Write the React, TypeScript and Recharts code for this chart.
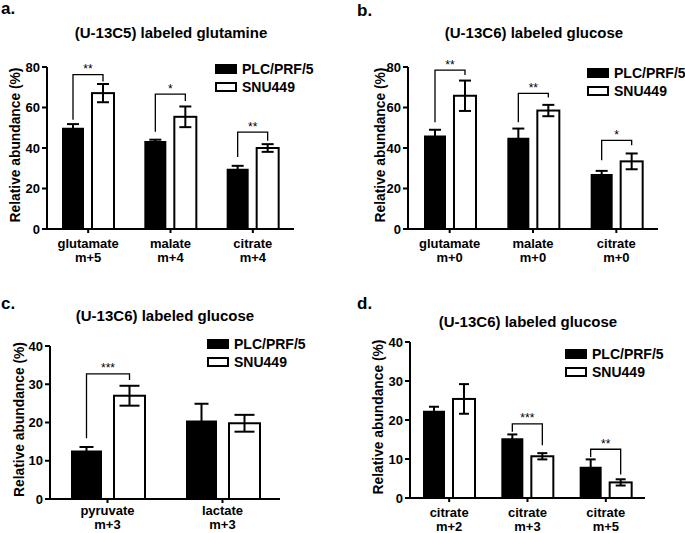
import { Bar, BarChart, ErrorBar, Legend, XAxis, YAxis } from 'recharts';

const FONT = '"Liberation Sans", Arial, Helvetica, sans-serif';

const seriesNames = ['PLC/PRF/5', 'SNU449'];

// a. (U-13C5) labeled glutamine
const metabA = ['glutamate', 'malate', 'citrate'];
const isoA = ['m+5', 'm+4', 'm+4'];
const plcA = [50, 43.4, 29.8];
const plcErrA = [1.8, 0.7, 1.4];
const snuA = [67.1, 55.4, 40];
const snuErrA = [4.5, 5.1, 1.9];
const sigA = ['**', '*', '**'];
const bracketLeftA = [54, 48, 35.6];
const bracketTopA = [76.2, 66.6, 47.8];
const bracketRightA = [72.8, 63.2, 43.6];

// b. (U-13C6) labeled glucose
const metabB = ['glutamate', 'malate', 'citrate'];
const isoB = ['m+0', 'm+0', 'm+0'];
const plcB = [46.2, 45.1, 27.1];
const plcErrB = [2.8, 4.5, 1.6];
const snuB = [65.8, 58.5, 33.4];
const snuErrB = [7.5, 2.8, 3.9];
const sigB = ['**', '**', '*'];
const bracketLeftB = [52.7, 52.7, 34];
const bracketTopB = [78.5, 67, 43.8];
const bracketRightB = [76, 65, 41.3];

// c. (U-13C6) labeled glucose
const metabC = ['pyruvate', 'lactate'];
const isoC = ['m+3', 'm+3'];
const plcC = [12.7, 20.5];
const plcErrC = [0.9, 4.4];
const snuC = [27, 19.8];
const snuErrC = [2.6, 2.2];
const sigC = ['***', ''];
const bracketLeftC = [15.9, 0];
const bracketTopC = [32.7, 0];
const bracketRightC = [31.1, 0];

// d. (U-13C6) labeled glucose
const metabD = ['citrate', 'citrate', 'citrate'];
const isoD = ['m+2', 'm+3', 'm+5'];
const plcD = [22.4, 15.3, 8.0];
const plcErrD = [1.0, 1.0, 1.9];
const snuD = [25.4, 10.7, 4.0];
const snuErrD = [3.8, 0.8, 0.8];
const sigD = ['', '***', '**'];
const bracketLeftD = [0, 17, 10.5];
const bracketTopD = [0, 19, 12.5];
const bracketRightD = [0, 13.5, 6];

const ticks80 = [0, 20, 40, 60, 80];
const ticks40 = [0, 10, 20, 30, 40];

function buildRows(
    metab: string[], iso: string[], plc: number[], plcErr: number[], snu: number[], snuErr: number[],
    sig: string[], bLeft: number[], bTop: number[], bRight: number[]
) {
    return metab.map((m, i) => ({
        name: `${m}|${iso[i]}`,
        plc: plc[i],
        plcErr: plcErr[i],
        snu: snu[i],
        snuErr: snuErr[i],
        sig: sig[i],
        bLeft: bLeft[i],
        bTop: bTop[i],
        bRight: bRight[i],
    }));
}

const rowsA = buildRows(metabA, isoA, plcA, plcErrA, snuA, snuErrA, sigA, bracketLeftA, bracketTopA, bracketRightA);
const rowsB = buildRows(metabB, isoB, plcB, plcErrB, snuB, snuErrB, sigB, bracketLeftB, bracketTopB, bracketRightB);
const rowsC = buildRows(metabC, isoC, plcC, plcErrC, snuC, snuErrC, sigC, bracketLeftC, bracketTopC, bracketRightC);
const rowsD = buildRows(metabD, isoD, plcD, plcErrD, snuD, snuErrD, sigD, bracketLeftD, bracketTopD, bracketRightD);

// white bar + significance bracket (bracket runs from the black bar of the same group)
function snuShape(gap: number) {
    return (props: any) => {
        const { x, y, width, height, payload } = props;
        const ppu = height / payload.snu;
        const base = y + height;
        const toY = (v: number) => base - v * ppu;
        const lx = x - gap - width / 2;
        const rx = x + width / 2;
        return (
            <g>
                <rect x={x} y={y} width={width} height={height} fill='#fff' stroke='#000' strokeWidth={2} />
                {payload.sig && (
                    <g>
                        <polyline
                            points={`${lx},${toY(payload.bLeft)} ${lx},${toY(payload.bTop)} ${rx},${toY(payload.bTop)} ${rx},${toY(payload.bRight)}`}
                            fill='none'
                            stroke='#000'
                            strokeWidth={1.3}
                        />
                        <text x={(lx + rx) / 2} y={toY(payload.bTop) - 1.5} textAnchor='middle' fontSize={12} fontFamily={FONT} fill='#000'>
                            {payload.sig}
                        </text>
                    </g>
                )}
            </g>
        );
    };
}

function TwoLineTick({ x, y, payload, dy1, dy2 }: any) {
    const [top, bottom] = String(payload.value).split('|');
    return (
        <text x={x} y={y} textAnchor='middle' fontSize={13} fontWeight='bold' fontFamily={FONT} fill='#000'>
            <tspan x={x} dy={dy1}>{top}</tspan>
            <tspan x={x} dy={dy2}>{bottom}</tspan>
        </text>
    );
}

function LegendBox() {
    return (
        <div style={{ fontFamily: FONT, fontWeight: 'bold', fontSize: 14, color: '#000', whiteSpace: 'nowrap' }}>
            {seriesNames.map((n, i) => (
                <div key={n} style={{ display: 'flex', alignItems: 'center', height: 18, lineHeight: '18px' }}>
                    <span
                        style={{
                            display: 'inline-block',
                            width: 22,
                            height: 10,
                            boxSizing: 'border-box',
                            background: i === 0 ? '#000' : '#fff',
                            border: '2px solid #000',
                            marginRight: 5,
                        }}
                    />
                    {n}
                </div>
            ))}
        </div>
    );
}

interface PanelProps {
    rows: any[];
    left: number;
    top: number;
    width: number;
    height: number;
    marginTop: number;
    marginRight: number;
    yWidth: number;
    xHeight: number;
    yMax: number;
    yTicks: number[];
    barSize: number;
    barGap: number;
    capPlc: number;
    capSnu: number;
    labelX: number;
    tickDy1: number;
    tickDy2: number;
    legendX: number;
    legendY: number;
}

function Panel(p: PanelProps) {
    return (
        <div style={{ position: 'absolute', left: p.left, top: p.top }}>
            <BarChart
                width={p.width}
                height={p.height}
                data={p.rows}
                margin={{ top: p.marginTop, right: p.marginRight, left: 0, bottom: 0 }}
                barSize={p.barSize}
                barGap={p.barGap}
            >
                <XAxis
                    dataKey='name'
                    height={p.xHeight}
                    interval={0}
                    tickSize={4}
                    tickMargin={2}
                    axisLine={{ stroke: '#000', strokeWidth: 2 }}
                    tickLine={{ stroke: '#000', strokeWidth: 2 }}
                    tick={<TwoLineTick dy1={p.tickDy1} dy2={p.tickDy2} />}
                />
                <YAxis
                    width={p.yWidth}
                    domain={[0, p.yMax]}
                    ticks={p.yTicks}
                    tickSize={5}
                    tickMargin={2}
                    axisLine={{ stroke: '#000', strokeWidth: 2 }}
                    tickLine={{ stroke: '#000', strokeWidth: 2 }}
                    tick={{ fill: '#000', fontSize: 13, fontWeight: 'bold', fontFamily: FONT }}
                    label={(lp: any) => {
                        const vb = lp.viewBox || {};
                        const cx = p.labelX;
                        const cy = (vb.y ?? p.marginTop) + (vb.height ?? 0) / 2 - 3;
                        return (
                            <text
                                x={cx}
                                y={cy}
                                transform={`rotate(-90 ${cx} ${cy})`}
                                textAnchor='middle'
                                dominantBaseline='central'
                                fontSize={13.8}
                                fontWeight='bold'
                                fontFamily={FONT}
                                fill='#000'
                            >
                                Relative abundance (%)
                            </text>
                        );
                    }}
                />
                <Legend
                    layout='vertical'
                    align='center'
                    verticalAlign='middle'
                    content={() => <LegendBox />}
                    wrapperStyle={{ left: p.legendX, top: p.legendY, width: 'auto', height: 'auto' }}
                />
                <Bar dataKey='plc' name={seriesNames[0]} fill='#000' isAnimationActive={false}>
                    <ErrorBar dataKey='plcErr' width={p.capPlc} stroke='#000' strokeWidth={2} />
                </Bar>
                <Bar dataKey='snu' name={seriesNames[1]} fill='#fff' shape={snuShape(p.barGap)} isAnimationActive={false}>
                    <ErrorBar dataKey='snuErr' width={p.capSnu} stroke='#000' strokeWidth={2} />
                </Bar>
            </BarChart>
        </div>
    );
}

const letterStyle: React.CSSProperties = {
    position: 'absolute',
    fontSize: 17,
    lineHeight: '20px',
    fontWeight: 'bold',
    fontFamily: FONT,
};

function Title({ cx, top, text }: { cx: number; top: number; text: string }) {
    return (
        <div
            style={{
                position: 'absolute',
                left: cx - 150,
                top,
                width: 300,
                textAlign: 'center',
                fontSize: 15,
                lineHeight: '18px',
                fontWeight: 'bold',
                fontFamily: FONT,
            }}
        >
            {text}
        </div>
    );
}

export default function App() {
    return (
        <div style={{ position: 'absolute', left: 0, top: 0, width: 685, height: 533, background: '#fff', overflow: 'hidden', color: '#000' }}>
            <Panel
                rows={rowsA} left={0} top={0} width={340} height={265} marginTop={67} marginRight={46}
                yWidth={47} xHeight={36} yMax={80} yTicks={ticks80} barSize={22} barGap={8} capPlc={6} capSnu={6}
                labelX={15} tickDy1={13} tickDy2={13.5} legendX={215} legendY={60}
            />
            <Panel
                rows={rowsB} left={340} top={0} width={345} height={265} marginTop={67} marginRight={27}
                yWidth={68} xHeight={36} yMax={80} yTicks={ticks80} barSize={22} barGap={8} capPlc={6} capSnu={6}
                labelX={40} tickDy1={13} tickDy2={13.5} legendX={247} legendY={64}
            />
            <Panel
                rows={rowsC} left={0} top={265} width={340} height={268} marginTop={81} marginRight={60}
                yWidth={50} xHeight={34} yMax={40} yTicks={ticks40} barSize={31} barGap={12} capPlc={7} capSnu={10}
                labelX={19} tickDy1={10} tickDy2={14} legendX={207} legendY={70}
            />
            <Panel
                rows={rowsD} left={340} top={265} width={345} height={268} marginTop={77} marginRight={40}
                yWidth={70} xHeight={35} yMax={40} yTicks={ticks40} barSize={22} barGap={8} capPlc={5} capSnu={5}
                labelX={38.5} tickDy1={13} tickDy2={13.5} legendX={225} legendY={80}
            />
            <div style={{ ...letterStyle, left: 1, top: -1 }}>a.</div>
            <div style={{ ...letterStyle, left: 357, top: 1 }}>b.</div>
            <div style={{ ...letterStyle, left: 1, top: 294 }}>c.</div>
            <div style={{ ...letterStyle, left: 357, top: 294 }}>d.</div>
            <Title cx={171} top={24} text='(U-13C5) labeled glutamine' />
            <Title cx={534} top={24} text='(U-13C6) labeled glucose' />
            <Title cx={165} top={307} text='(U-13C6) labeled glucose' />
            <Title cx={528} top={313} text='(U-13C6) labeled glucose' />
        </div>
    );
}
